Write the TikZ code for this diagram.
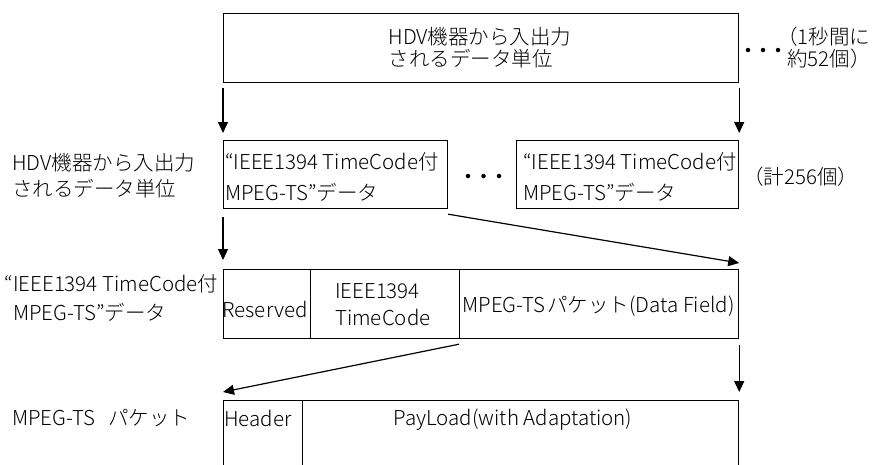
\documentclass[tikz,border=0pt]{standalone}
\usepackage{fontspec}
\setmainfont{Noto Sans CJK JP Light}
\usetikzlibrary{arrows.meta}
\begin{document}
\begin{tikzpicture}[x=1pt,y=-1pt,
  box/.style={draw, line width=1.2pt, inner sep=0pt, anchor=north west},
  arr/.style={line width=1.2pt, -{Triangle[length=11pt,width=10pt]}},
  lbl/.style={inner sep=0pt, align=left},
  dotmark/.style={circle, fill, inner sep=0pt, minimum size=4.5pt}]
\useasboundingbox (0,0) rectangle (878,464);
\clip (0,0) rectangle (878,464);
% boxes
\node[box, minimum width=515pt, minimum height=69pt] (top) at (223,13) {};
\node[box, minimum width=224pt, minimum height=68pt] (b1) at (223,140) {};
\node[box, minimum width=222pt, minimum height=68pt] (b2) at (516,140) {};
\node[box, minimum width=87pt, minimum height=69pt] (res) at (223,269) {};
\node[box, minimum width=149pt, minimum height=69pt] (tc) at (310,269) {};
\node[box, minimum width=279pt, minimum height=69pt] (df) at (459,269) {};
\node[box, minimum width=79pt, minimum height=90pt] (hdr) at (223,400) {};
\node[box, minimum width=436pt, minimum height=90pt] (pl) at (302,400) {};
% texts
\node[lbl, font=\fontsize{20.5}{22}\selectfont] (ttop) at (480,47.5) {HDV機器から入出力\\されるデータ単位};
\node[lbl, anchor=west, font=\fontsize{20.5}{22}\selectfont] (n1) at (777,47.5) {（1秒間に\\\kern10pt 約52個）};
\node[lbl, anchor=west, font=\fontsize{20.5}{26}\selectfont] (l2) at (12,176) {HDV機器から入出力\\されるデータ単位};
\node[lbl, anchor=west, font=\fontsize{20.5}{31}\selectfont] (t1) at (225,177) {“IEEE1394 TimeCode付\\MPEG-TS”データ};
\node[lbl, anchor=west, font=\fontsize{20.5}{31}\selectfont] (t2) at (523,177) {“IEEE1394 TimeCode付\\MPEG-TS”データ};
\node[lbl, anchor=west, font=\fontsize{20.5}{24}\selectfont] (n2) at (743,177) {（計256個）};
\node[lbl, anchor=west, font=\fontsize{20.5}{29}\selectfont] (l3) at (13,298) {\llap{“}IEEE1394 TimeCode付\\MPEG-TS”データ};
\node[lbl, font=\fontsize{20.5}{24}\selectfont] (tres) at (265,309) {Reserved};
\node[lbl, anchor=west, font=\fontsize{20.5}{27}\selectfont] (ttc) at (335,305) {IEEE1394\\TimeCode};
\node[lbl, font=\fontsize{20.5}{24}\selectfont] (tdf) at (598.5,306) {MPEG-TS\kern2pt パケット(Data Field)};
\node[lbl, anchor=west, font=\fontsize{20.5}{24}\selectfont] (l4) at (12,418.5) {MPEG-TS\hspace{13pt}パケット};
\node[lbl, font=\fontsize{20.5}{24}\selectfont] (thdr) at (258,418) {Header};
\node[lbl, font=\fontsize{20.5}{24}\selectfont] (tpl) at (513,419.5) {PayLoad(with Adaptation)};
% dots
\node[dotmark] (d1) at (748,50) {};
\node[dotmark] (d2) at (763,50) {};
\node[dotmark] (d3) at (778,50) {};
\node[dotmark] (e1) at (468,176) {};
\node[dotmark] (e2) at (483.5,176) {};
\node[dotmark] (e3) at (499,176) {};
% arrows
\draw[arr] ([yshift=-5pt]top.south west) -- ([yshift=7pt]b1.north west);
\draw[arr] ([yshift=-5pt]top.south east) -- ([yshift=7pt]b2.north east);
\draw[arr] ([yshift=-8pt]b1.south west) -- ([yshift=9pt]res.north west);
\draw[arr] ([yshift=-5pt]b1.south east) -- ([yshift=6pt]df.north east);
\draw[arr] ([yshift=-5pt]df.south west) -- ([yshift=8pt]hdr.north west);
\draw[arr] ([yshift=-6pt]df.south east) -- ([yshift=8pt]pl.north east);
\end{tikzpicture}
\end{document}
